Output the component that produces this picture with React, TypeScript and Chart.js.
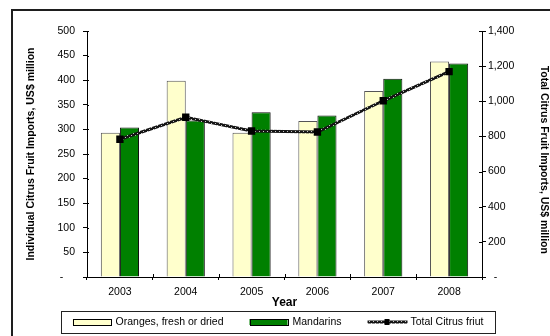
import { useEffect, useRef } from 'react';
import { Chart, registerables } from 'chart.js';

Chart.register(...registerables);

// Citrus fruit imports by year, US$ million
const years = ['2003', '2004', '2005', '2006', '2007', '2008'];
const oranges = [293, 399, 293, 317, 378, 438];
const mandarins = [304, 318, 335, 328, 403, 434];
const totalCitrus = [784, 909, 831, 825, 1003, 1169];

const leftAxisMax = 500;
const leftAxisStep = 50;
const rightAxisMax = 1400;
const rightAxisStep = 200;

const FONT = "'Liberation Sans', Arial, sans-serif";

// Dark hatched stroke used for the total line
function makeHatch(): CanvasPattern | string {
  const c = document.createElement('canvas');
  c.width = 4;
  c.height = 4;
  const g = c.getContext('2d');
  if (!g) return '#111';
  g.fillStyle = '#151515';
  g.fillRect(0, 0, 4, 4);
  g.fillStyle = '#c8c8c8';
  g.fillRect(1, 1, 1, 1);
  g.fillRect(3, 3, 1, 1);
  const p = g.createPattern(c, 'repeat');
  return p || '#111';
}

// Outer frame around the chart (left and top edges)
const framePlugin = {
  id: 'frame',
  beforeDraw(chart: any) {
    const { ctx, width, height } = chart;
    ctx.save();
    ctx.fillStyle = '#fff';
    ctx.fillRect(0, 0, width, height);
    ctx.strokeStyle = '#1e1e1e';
    ctx.lineWidth = 2;
    ctx.beginPath();
    ctx.moveTo(12, height);
    ctx.lineTo(12, 10);
    ctx.lineTo(width, 10);
    ctx.stroke();
    ctx.restore();
  },
};

// Inner half of the cross-style tick marks
const crossTicksPlugin = {
  id: 'crossTicks',
  afterDraw(chart: any) {
    const { ctx, chartArea, scales } = chart;
    ctx.save();
    ctx.strokeStyle = '#000';
    ctx.lineWidth = 1;
    ctx.beginPath();
    const y = scales.y;
    y.ticks.forEach((_: any, i: number) => {
      const py = Math.round(y.getPixelForTick(i)) + 0.5;
      ctx.moveTo(chartArea.left, py);
      ctx.lineTo(chartArea.left + 2, py);
    });
    const y1 = scales.y1;
    y1.ticks.forEach((_: any, i: number) => {
      const py = Math.round(y1.getPixelForTick(i)) + 0.5;
      ctx.moveTo(chartArea.right - 3, py);
      ctx.lineTo(chartArea.right, py);
    });
    const x = scales.x;
    const n = x.ticks.length;
    const step = n > 1 ? x.getPixelForTick(1) - x.getPixelForTick(0) : chartArea.right - chartArea.left;
    for (let i = 0; i <= n; i++) {
      const px = Math.round(x.getPixelForTick(0) - step / 2 + i * step) + 0.5;
      ctx.moveTo(px, chartArea.bottom);
      ctx.lineTo(px, chartArea.bottom - 3);
    }
    ctx.stroke();
    ctx.restore();
  },
};

// Boxed legend below the x axis
const boxedLegendPlugin = {
  id: 'boxedLegend',
  afterDraw(chart: any) {
    const { ctx } = chart;
    const datasets = chart.data.datasets;
    const swatchW = 38;
    const textGap = 5;
    const itemGap = 26;
    const centerX = 278;
    const top = 311;
    const boxH = 22;
    const midY = top + boxH / 2;
    ctx.save();
    ctx.font = `10.5px ${FONT}`;
    const widths = datasets.map((d: any) => swatchW + textGap + ctx.measureText(d.label).width);
    const total = widths.reduce((a: number, b: number) => a + b, 0) + itemGap * (datasets.length - 1);
    let x = centerX - total / 2;
    ctx.strokeStyle = '#222';
    ctx.lineWidth = 1;
    ctx.strokeRect(Math.round(x - 12) + 0.5, top + 0.5, Math.round(total + 23), boxH);
    datasets.forEach((d: any, i: number) => {
      if (d.type === 'line') {
        ctx.strokeStyle = d.borderColor;
        ctx.lineWidth = 3;
        ctx.beginPath();
        ctx.moveTo(x, midY);
        ctx.lineTo(x + swatchW + 2, midY);
        ctx.stroke();
        ctx.fillStyle = '#000';
        ctx.fillRect(x + swatchW / 2 - 2, midY - 3, 5, 6);
      } else {
        ctx.fillStyle = d.backgroundColor;
        ctx.fillRect(x, midY - 3, swatchW, 6);
        ctx.strokeStyle = '#000';
        ctx.lineWidth = 1;
        ctx.strokeRect(Math.round(x) + 0.5, midY - 3 + 0.5, swatchW, 6);
      }
      ctx.fillStyle = '#000';
      ctx.textBaseline = 'middle';
      ctx.textAlign = 'left';
      ctx.fillText(d.label, x + swatchW + textGap, midY + 0.5);
      x += widths[i] + itemGap;
    });
    ctx.restore();
  },
};

export default function App() {
  const canvasRef = useRef<HTMLCanvasElement | null>(null);

  useEffect(() => {
    const canvas = canvasRef.current;
    if (!canvas) return;
    Chart.defaults.font.family = FONT;
    const hatch = makeHatch();

    const chart = new Chart(canvas, {
      type: 'bar',
      data: {
        labels: years,
        datasets: [
          {
            type: 'bar',
            label: 'Oranges, fresh or dried',
            data: oranges,
            backgroundColor: '#FFFFCC',
            borderColor: '#555',
            borderWidth: 1,
            yAxisID: 'y',
            order: 1,
            categoryPercentage: 0.58,
            barPercentage: 1.0,
          },
          {
            type: 'bar',
            label: 'Mandarins',
            data: mandarins,
            backgroundColor: '#008000',
            borderColor: '#111',
            borderWidth: 1,
            yAxisID: 'y',
            order: 1,
            categoryPercentage: 0.58,
            barPercentage: 1.0,
          },
          {
            type: 'line',
            label: 'Total Citrus friut',
            data: totalCitrus,
            borderColor: hatch as any,
            borderWidth: 3,
            pointStyle: 'rect',
            pointRadius: 5.2,
            pointBackgroundColor: '#000',
            pointBorderColor: '#000',
            pointBorderWidth: 0,
            tension: 0,
            yAxisID: 'y1',
            order: 0,
          } as any,
        ],
      },
      options: {
        responsive: false,
        animation: false,
        devicePixelRatio: 1,
        layout: { padding: { left: 0, right: 0, top: 31, bottom: 26 } },
        plugins: {
          legend: { display: false },
          tooltip: { enabled: false },
        },
        scales: {
          x: {
            grid: { display: true, drawOnChartArea: false, offset: true, tickLength: 3, color: '#000' },
            border: { color: '#000', width: 1 },
            ticks: { color: '#000', font: { size: 10.5 }, padding: 6, maxRotation: 0 },
            title: { display: true, text: 'Year', color: '#000', font: { size: 12, weight: 'bold' }, padding: 0 },
            afterFit(scale: any) {
              scale.height = 33;
            },
          },
          y: {
            position: 'left',
            min: 0,
            max: leftAxisMax,
            grid: { display: true, drawOnChartArea: false, tickLength: 4, color: '#000' },
            border: { color: '#000', width: 1 },
            ticks: {
              stepSize: leftAxisStep,
              color: '#000',
              font: { size: 10.5 },
              padding: 8,
              callback: (v: any) => (Number(v) === 0 ? '-    ' : String(v)),
            },
            title: {
              display: true,
              text: 'Individual Citrus Fruit Imports, US$ million',
              color: '#000',
              font: { size: 10.5, weight: 'bold' },
              padding: { top: 25, bottom: 0 },
            },
            afterFit(scale: any) {
              scale.width = 87;
            },
          },
          y1: {
            position: 'right',
            min: 0,
            max: rightAxisMax,
            grid: { display: true, drawOnChartArea: false, tickLength: 4, color: '#000' },
            border: { color: '#000', width: 1 },
            ticks: {
              stepSize: rightAxisStep,
              color: '#000',
              font: { size: 10.5 },
              padding: 2,
              callback: (v: any) => (Number(v) === 0 ? '  -' : Number(v).toLocaleString('en-US')),
            },
            title: {
              display: true,
              text: '    Total Citrus Fruit Imports, US$ million',
              color: '#000',
              font: { size: 10.5, weight: 'bold' },
              padding: { top: 0, bottom: 0 },
            },
            afterFit(scale: any) {
              scale.width = 68;
            },
          },
        },
      } as any,
      plugins: [framePlugin, crossTicksPlugin, boxedLegendPlugin],
    });

    return () => chart.destroy();
  }, []);

  return (
    <div style={{ position: 'fixed', left: 0, top: 0, width: 550, height: 336, background: '#fff' }}>
      <canvas ref={canvasRef} width={550} height={336} style={{ display: 'block' }} />
    </div>
  );
}
